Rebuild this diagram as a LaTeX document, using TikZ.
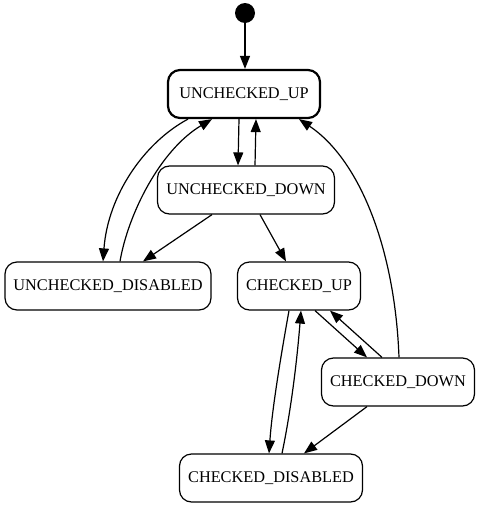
\documentclass[tikz,border=0pt]{standalone}
\usepackage{fontspec}
\setmainfont{Liberation Serif}
\usetikzlibrary{arrows.meta}
\tikzset{%
  tr/.style = {-{Triangle[length=13pt,width=10pt]},line width=1.2pt},
  s/.style = {rectangle,draw,rounded corners=12pt,line width=1.2pt,
        minimum height=48pt,inner sep=0pt,
        font=\fontsize{16.3}{19}\selectfont},
  init/.style = {circle,fill,minimum size=20pt,inner sep=0pt}
}

\begin{document}
\begin{tikzpicture}[x=1pt,y=-1pt]
  \useasboundingbox (0,0) rectangle (480,509);
  \node[init] (start) at (245,13) {};
  \node[s,line width=2.2pt,minimum width=152pt] (ucu) at (244,94) {UNCHECKED\_UP};
  \node[s,minimum width=177pt] (ucd) at (246,190) {UNCHECKED\_DOWN};
  \node[s,minimum width=206pt] (udis) at (108,286) {UNCHECKED\_DISABLED};
  \node[s,minimum width=123pt] (cu) at (299,286) {CHECKED\_UP};
  \node[s,minimum width=153pt] (cd) at (398,382) {CHECKED\_DOWN};
  \node[s,minimum width=183pt] (cdis) at (271,478) {CHECKED\_DISABLED};

  \draw[tr] (start) -- ([xshift=1pt]ucu.north);
  \draw[tr] ([xshift=-5pt]ucu.south) -- ([xshift=-8pt]ucd.north);
  \draw[tr] ([xshift=9pt]ucd.north) -- ([xshift=12pt]ucu.south);
  \draw[tr] ([xshift=-56pt]ucu.south) .. controls +(-43,23) and +(5,-67) .. ([xshift=-5pt]udis.north);
  \draw[tr] ([xshift=12pt]udis.north) .. controls +(8,-47) and +(-52,31) .. ([xshift=-32pt]ucu.south);
  \draw[tr] ([xshift=-34pt]ucd.south) -- ([xshift=35pt]udis.north);
  \draw[tr] ([xshift=14pt]ucd.south) -- ([xshift=-13pt]cu.north);
  \draw[tr] ([xshift=1pt]cd.north) .. controls +(-4,-108) and +(61,41) .. ([xshift=55pt]ucu.south);
  \draw[tr] ([xshift=16pt]cu.south) -- ([xshift=-31pt]cd.north);
  \draw[tr] ([xshift=-16pt]cd.north) -- ([xshift=31pt]cu.south);
  \draw[tr] ([xshift=-10pt]cu.south) .. controls +(-9,50) and +(3,-43) .. ([xshift=-2pt]cdis.north);
  \draw[tr] ([xshift=11pt]cdis.north) .. controls +(9,-43) and +(-4,50) .. ([xshift=2pt]cu.south);
  \draw[tr] ([xshift=-31pt]cd.south) -- ([xshift=33pt]cdis.north);
\end{tikzpicture}
\end{document}
